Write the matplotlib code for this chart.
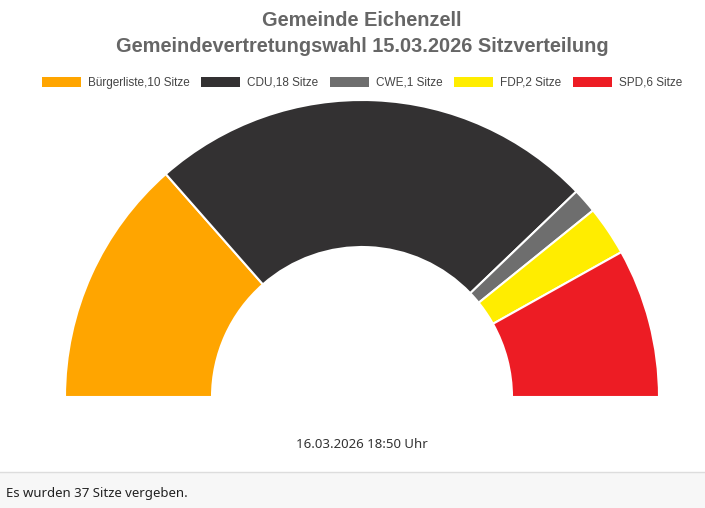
import matplotlib.pyplot as plt
from matplotlib.patches import Patch, Rectangle

parties = ["Bürgerliste", "CDU", "CWE", "FDP", "SPD"]
seats = [10, 18, 1, 2, 6]
colors = ["#FFA500", "#333132", "#6E6E6E", "#FFED00", "#ED1C24"]
title_lines = ["Gemeinde Eichenzell", "Gemeindevertretungswahl 15.03.2026 Sitzverteilung"]
stamp = "16.03.2026 18:50 Uhr"
total = sum(seats)
footer = f"Es wurden {total} Sitze vergeben."

W, H = 705, 508
fig = plt.figure(figsize=(W / 100, H / 100), dpi=100)
fig.patch.set_facecolor("white")

# semicircle: center (362, 397) px, outer radius 297 px
cx, cy, r = 362, 397, 297
ax = fig.add_axes([(cx - r) / W, (H - cy) / H, 2 * r / W, r / H])
wedges, _ = ax.pie(seats + [total], colors=colors + ["none"], radius=1,
                   startangle=180, counterclock=False,
                   wedgeprops=dict(width=0.495, edgecolor="white", linewidth=1.5))
wedges[-1].set_visible(False)
ax.set_xlim(-1, 1)
ax.set_ylim(0, 1)
ax.set_aspect("auto")
ax.axis("off")
for w in wedges:
    w.set_clip_on(False)

for line, ypx in zip(title_lines, [20, 46]):
    fig.text(cx / W, 1 - ypx / H, line, ha="center", va="center", fontsize=14.4,
             fontweight="bold", color="#666666", family="Liberation Sans")

handles = [Patch(facecolor=c, edgecolor="none") for c in colors]
labels = [f"{p},{s} Sitze" for p, s in zip(parties, seats)]
fig.legend(handles, labels, loc="center", bbox_to_anchor=(cx / W, 1 - 83 / H),
           ncol=5, frameon=False, handlelength=3.3, handleheight=0.9,
           handletextpad=0.6, columnspacing=1.0,
           prop=dict(family="Liberation Sans", size=8.45), labelcolor="#444444")

fig.text(cx / W, 1 - 444 / H, stamp, ha="center", va="center", fontsize=9.5,
         color="#333333", family="Noto Sans")

# footer band
fig.patches.append(Rectangle((0, 0), 1, 36 / H, transform=fig.transFigure,
                             facecolor="#F7F7F7", edgecolor="none", zorder=0))
fig.lines.append(plt.Line2D([0, 1], [36 / H, 36 / H], transform=fig.transFigure,
                            color="#DDDDDD", linewidth=1))
fig.text(6 / W, 15 / H, footer, ha="left", va="center", fontsize=9.5,
         color="#222222", family="Noto Sans")

fig.savefig("out.png", dpi=100)
